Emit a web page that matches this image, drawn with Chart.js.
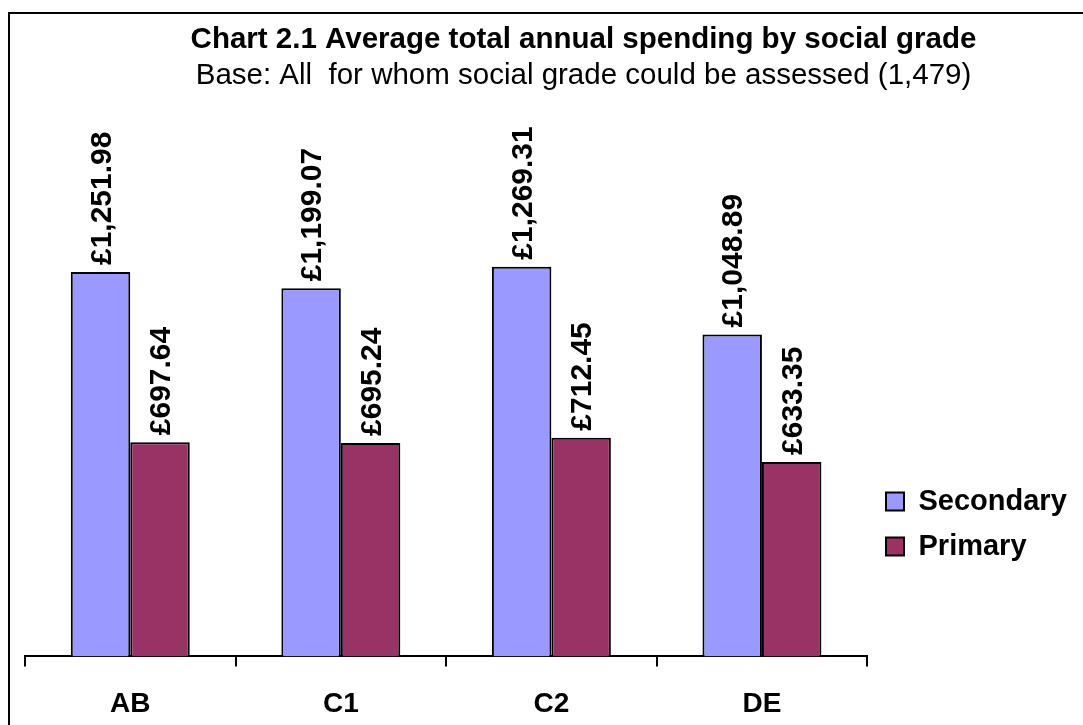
<!DOCTYPE html>
<html>
<head>
<meta charset="utf-8">
<script src="https://cdn.jsdelivr.net/npm/chart.js@4/dist/chart.umd.min.js"></script>
<style>
  html, body { margin: 0; padding: 0; background: #fff; overflow: hidden; }
  #frame { position: absolute; left: 8px; top: 12px; width: 1200px; height: 800px; border: 2px solid #000; }
  /* the original chart is bigger than the window; its right and bottom edges are cut off */
  #wrap { position: absolute; left: 0; top: 0; width: 1170px; height: 746px; }
</style>
</head>
<body>
<div id="frame"></div>
<div id="wrap"><canvas id="chart"></canvas></div>
<script>
/* Chart 2.1 - average annual spending by social grade */
const categories = ["AB", "C1", "C2", "DE"];
const secondary = [1251.98, 1199.07, 1269.31, 1048.89];
const primary = [697.64, 695.24, 712.45, 633.35];

const FONT = '"Liberation Sans", Arial, sans-serif';
Chart.defaults.color = "#000";
Chart.defaults.font.family = FONT;

function money(v) {
  return "£" + v.toLocaleString("en-GB", { minimumFractionDigits: 2, maximumFractionDigits: 2 });
}

// rotated value labels above each bar
const barLabels = {
  id: "barLabels",
  afterDatasetsDraw(chart) {
    const ctx = chart.ctx;
    ctx.save();
    ctx.fillStyle = "#000";
    ctx.font = "bold 30px " + FONT;
    ctx.textAlign = "left";
    ctx.textBaseline = "middle";
    chart.data.datasets.forEach(function (ds, i) {
      chart.getDatasetMeta(i).data.forEach(function (bar, j) {
        ctx.save();
        ctx.translate(bar.x + 2, bar.y - 7);
        ctx.rotate(-Math.PI / 2);
        ctx.fillText(money(ds.data[j]), 0, 0);
        ctx.restore();
      });
    });
    ctx.restore();
  }
};

// legend sits low on the right; titles are centred a bit right of the canvas middle
const placeBoxes = {
  id: "placeBoxes",
  beforeDraw(chart) {
    const lg = chart.legend;
    const h = lg.bottom - lg.top, w = lg.right - lg.left;
    lg.top = 471; lg.bottom = lg.top + h;
    lg.left = 870; lg.right = lg.left + w;
    chart.boxes.forEach(function (b) {
      if (b.position === "top" && b.options && typeof b.options.text === "string") {
        b.left += 34; b.right += 34;
      }
    });
  }
};

new Chart(document.getElementById("chart"), {
  type: "bar",
  data: {
    labels: categories,
    datasets: [
      { label: "Secondary", data: secondary, backgroundColor: "#9999FF", borderColor: "#000", borderWidth: 2 },
      { label: "Primary", data: primary, backgroundColor: "#993366", borderColor: "#000", borderWidth: 2 }
    ]
  },
  options: {
    responsive: true, maintainAspectRatio: false, animation: false,
    categoryPercentage: 0.565, barPercentage: 1.0,
    layout: { padding: { left: 25, right: 96, top: 0, bottom: 4 } },
    plugins: {
      title: { display: true, text: "Chart 2.1 Average total annual spending by social grade",
        font: { size: 29.5, weight: "bold" }, padding: { top: 22, bottom: 0 } },
      subtitle: { display: true, text: "Base: All  for whom social grade could be assessed (1,479)",
        font: { size: 29.5, weight: "normal" }, padding: { top: 1, bottom: 10 } },
      legend: { position: "right", align: "start",
        labels: { boxWidth: 18, boxHeight: 18, padding: 16, font: { size: 29, weight: "bold" } } },
      tooltip: { enabled: false }
    },
    scales: {
      x: {
        grid: { offset: true, drawOnChartArea: false, color: "#000", lineWidth: 2, tickLength: 10 },
        border: { display: true, color: "#000", width: 2 },
        ticks: { padding: 21, font: { size: 28, weight: "bold" } }
      },
      y: { display: false, min: 0, max: 1800 }
    }
  },
  plugins: [barLabels, placeBoxes]
});
</script>
</body>
</html>
